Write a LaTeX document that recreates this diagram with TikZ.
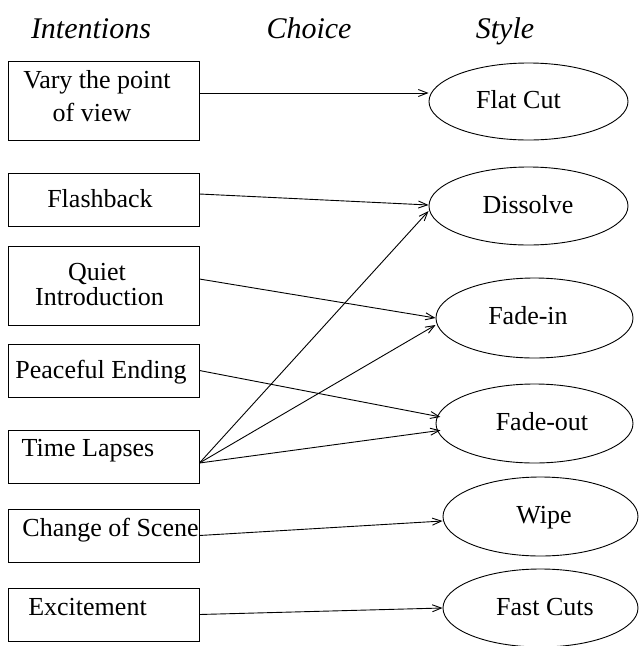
\documentclass[tikz,border=0pt]{standalone}
\usepackage{fontspec}
\setmainfont{Liberation Serif}
\usetikzlibrary{shapes.geometric,arrows.meta}
\tikzset{
  box/.style={draw, line width=0.9pt, minimum width=191pt, inner sep=0pt},
  shortbox/.style={box, minimum height=53pt},
  tallbox/.style={box, minimum height=79pt},
  oval/.style={draw, ellipse, line width=0.9pt, inner sep=0pt},
  lbl/.style={anchor=base, inner sep=0pt, font=\fontsize{26}{30}\selectfont},
  head/.style={anchor=base, inner sep=0pt, font=\fontsize{30}{34}\selectfont\itshape},
  conn/.style={line width=0.9pt, -{Straight Barb[length=9pt,width=7pt]}}
}
\begin{document}
\begin{tikzpicture}[x=1pt,y=-1pt]
\useasboundingbox (0,0) rectangle (639,646);

% headings
\node[head] (hint) at (91,38) {Intentions};
\node[head] (hcho) at (309,38) {Choice};
\node[head] (hsty) at (505,38) {Style};

% left boxes
\node[tallbox]  (vary)  at (103.5,100.5) {};
\node[shortbox] (flash) at (103.5,199.5) {};
\node[tallbox]  (quiet) at (103.5,285.5) {};
\node[shortbox] (peace) at (103.5,370.5) {};
\node[shortbox] (time)  at (103.5,456.5) {};
\node[shortbox] (change) at (103.5,535.5) {};
\node[shortbox] (excite) at (103.5,614.5) {};

\node[lbl] (varyA) at (97,88) {Vary the point};
\node[lbl] (varyB) at (92,121) {of view};
\node[lbl] (flashT) at (100,207) {Flashback};
\node[lbl] (quietA) at (97,280) {Quiet};
\node[lbl] (quietB) at (99.5,305) {Introduction};
\node[lbl] (peaceT) at (101,378) {Peaceful Ending};
\node[lbl] (timeT) at (88,456) {Time Lapses};
\node[lbl] (changeT) at (110.5,536) {Change of Scene};
\node[lbl] (exciteT) at (87.5,615) {Excitement};

% right ellipses
\node[oval, minimum width=199pt, minimum height=77pt] (flat) at (528.5,101.5) {};
\node[oval, minimum width=199pt, minimum height=78pt] (diss) at (528.5,206) {};
\node[oval, minimum width=197pt, minimum height=80pt] (fin)  at (534.5,318) {};
\node[oval, minimum width=197pt, minimum height=79pt] (fout) at (534.5,423.5) {};
\node[oval, minimum width=195pt, minimum height=79pt] (wipe) at (540.5,516.5) {};
\node[oval, minimum width=195pt, minimum height=78pt] (fast) at (540.5,608) {};

\node[lbl] (flatT) at (518.5,108) {Flat Cut};
\node[lbl] (dissT) at (528,213) {Dissolve};
\node[lbl] (finT) at (528,324) {Fade-in};
\node[lbl] (foutT) at (542,430) {Fade-out};
\node[lbl] (wipeT) at (544,523) {Wipe};
\node[lbl] (fastT) at (545,615) {Fast Cuts};

% connectors
\draw[conn] ([yshift=7.5pt]vary.east) -- ([yshift=8.5pt]flat.west);
\draw[conn] ([yshift=5.5pt]flash.east) -- ([yshift=1pt]diss.west);
\draw[conn] ([yshift=-6.5pt]time.east) -- ([yshift=-5pt]diss.west);
\draw[conn] ([yshift=6.5pt]quiet.east) -- (fin.west);
\draw[conn] ([yshift=-6.5pt]time.east) -- ([yshift=-7pt]fin.west);
\draw[conn, shorten >=-5pt] (peace.east) -- ([yshift=7.5pt]fout.west);
\draw[conn, shorten >=-5pt] ([yshift=-6.5pt]time.east) -- ([yshift=-7.5pt]fout.west);
\draw[conn] (change.east) -- ([yshift=-4.5pt]wipe.west);
\draw[conn] (excite.east) -- (fast.west);
\end{tikzpicture}
\end{document}
